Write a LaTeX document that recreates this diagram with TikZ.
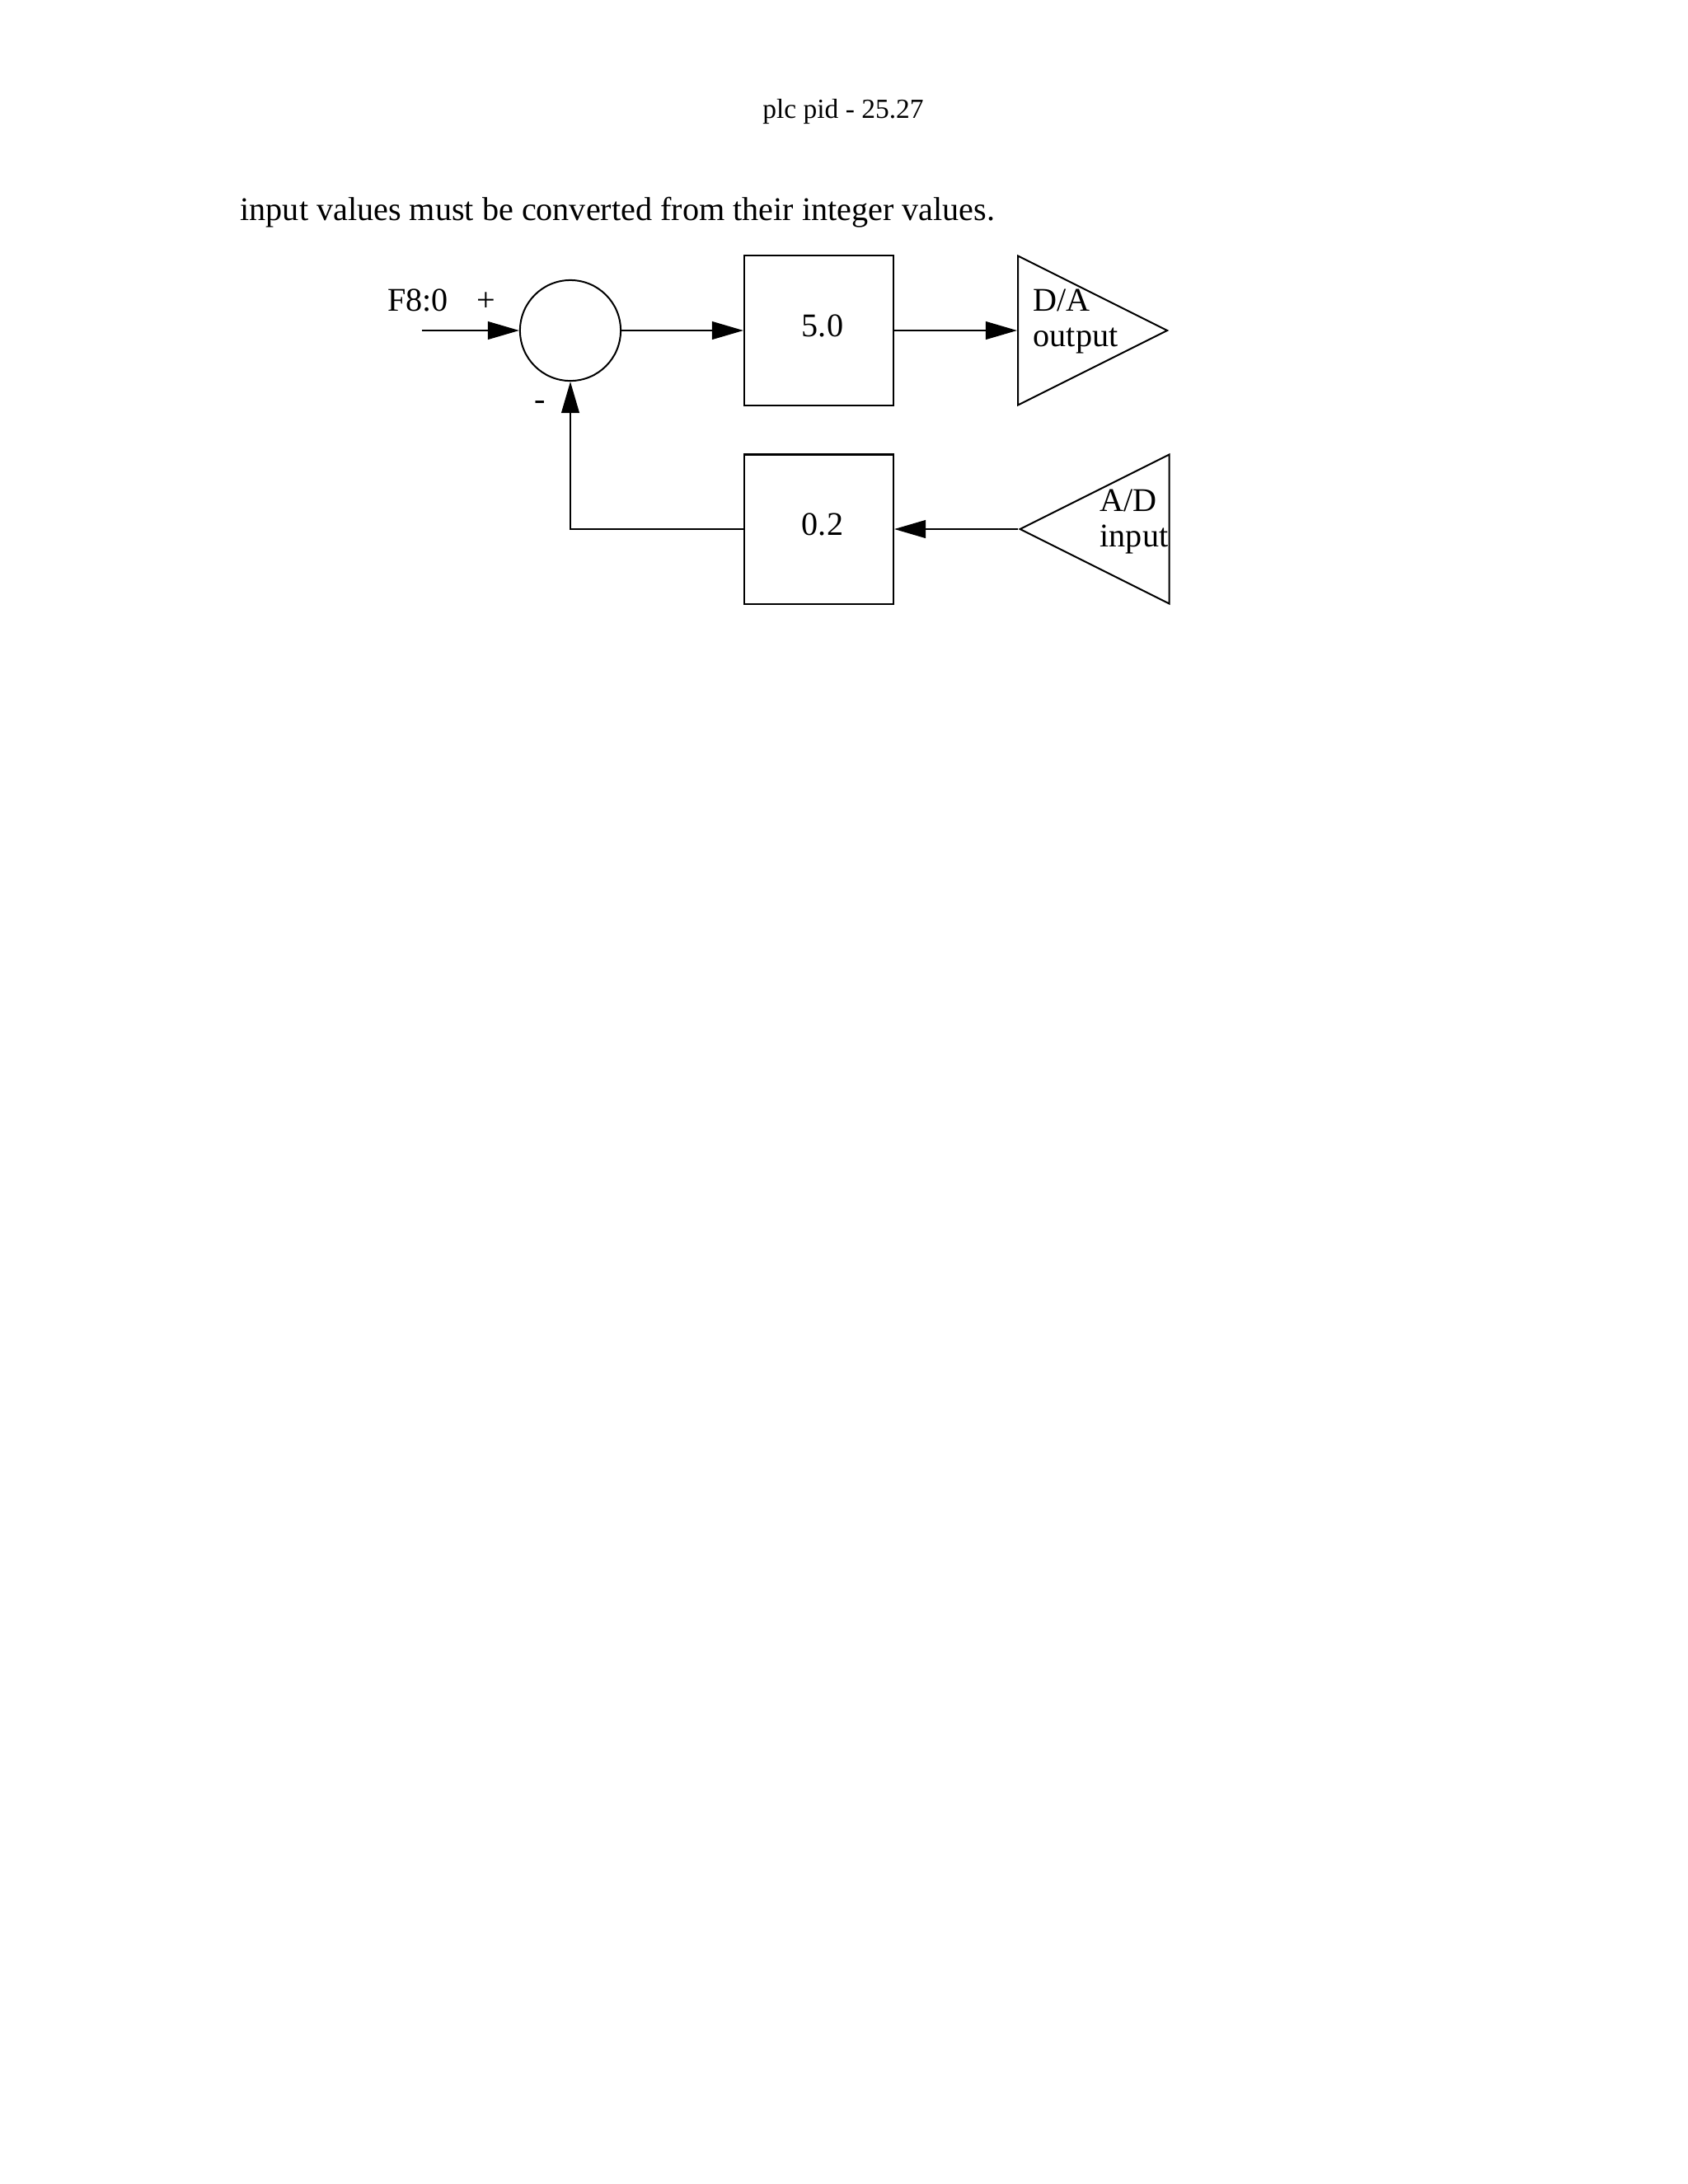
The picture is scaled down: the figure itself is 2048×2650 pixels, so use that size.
\documentclass[tikz,border=0pt]{standalone}
\usepackage{fontspec}
\setmainfont{Liberation Serif}
\usetikzlibrary{arrows.meta,shapes.geometric}
\begin{document}
\begin{tikzpicture}[x=0.29883pt,y=-0.29883pt,
  every node/.style={font=\fontsize{12}{14}\selectfont},
  lbl/.style={inner sep=0pt,anchor=base west},
  conn/.style={line width=0.6pt,-{Triangle[length=11.4pt,width=6.5pt]}},
  gainbox/.style={draw,line width=0.6pt,minimum width=54.1pt,minimum height=54.1pt,inner sep=0pt},
  sumnode/.style={draw,circle,line width=0.6pt,minimum size=36.5pt,inner sep=0pt},
  conv/.style={draw,isosceles triangle,isosceles triangle stretches,line width=0.6pt,
    minimum width=54.1pt,minimum height=54.1pt,inner sep=0pt}]
\path[use as bounding box] (0,0) rectangle (2048,2650);
% texts
\node[inner sep=0pt,anchor=base,font=\fontsize{10}{12}\selectfont] (hdr) at (1023,143) {plc pid - 25.27};
\node[lbl] (body) at (291,267) {input values must be converted from their integer values.};
% blocks
\coordinate (in) at (511.6,401);
\node[sumnode] (sum) at (692,401) {};
\node[gainbox] (g1) at (993.5,401) {};
\node[gainbox] (g2) at (993.5,642) {};
\node[inner sep=0pt] (g1t) at (998,395) {5.0};
\node[inner sep=0pt] (g2t) at (998,636) {0.2};
\node[conv,anchor=lower side] (da) at (1234,401) {};
\node[conv,shape border rotate=180,anchor=apex] (ad) at (1235,642) {};
% labels
\node[lbl] (f8) at (469.5,377) {F8:0};
\node[inner sep=0pt,anchor=base] (plus) at (590,377) {+};
\node[inner sep=0pt,anchor=base] (minus) at (655,497) {-};
\node[lbl] (tda) at (1253,377) {D/A};
\node[lbl] (tout) at (1253,420) {output};
\node[lbl] (tad) at (1334,620) {A/D};
\node[lbl] (tin) at (1334,663) {input};
% connectors
\draw[conn] (in) -- (sum.west);
\draw[conn] (sum.east) -- (g1.west);
\draw[conn] (g1.east) -- (da.lower side);
\draw[conn] (ad.apex) -- (g2.east);
\draw[conn] (g2.west) -| (sum.south);
\end{tikzpicture}
\end{document}
